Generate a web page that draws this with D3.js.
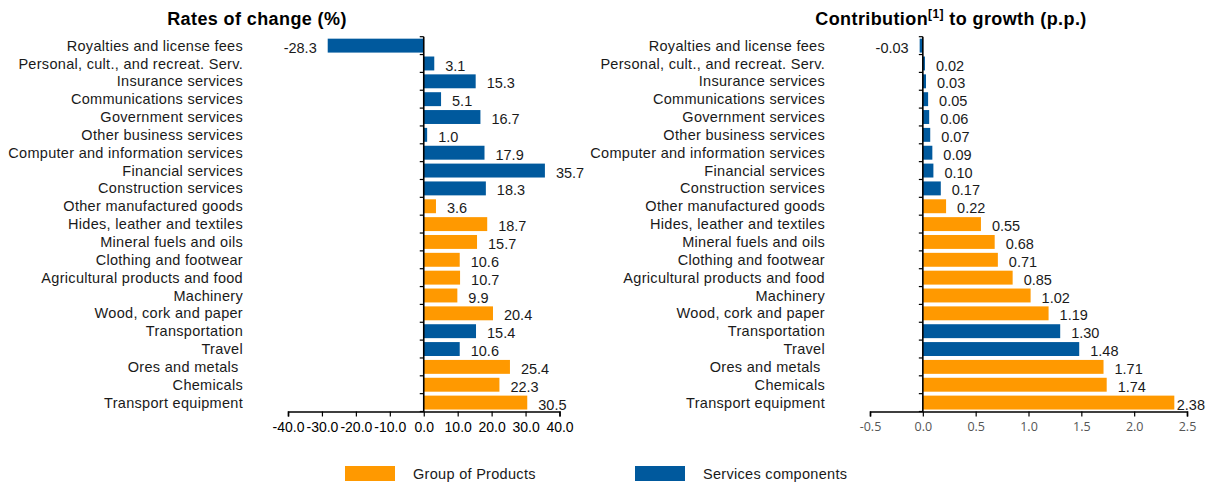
<!DOCTYPE html>
<html><head><meta charset="utf-8">
<script src="https://cdn.jsdelivr.net/npm/d3@7"></script>
<style>
body{margin:0;background:#fff}
svg{display:block}
text{font-family:"Liberation Sans",Arial,sans-serif}
</style>
</head><body>
<svg id="c" width="1206" height="483"></svg>
<script>
const categories = ["Royalties and license fees","Personal, cult., and recreat. Serv.","Insurance services","Communications services","Government services","Other business services","Computer and information services","Financial services","Construction services","Other manufactured goods","Hides, leather and textiles","Mineral fuels and oils","Clothing and footwear","Agricultural products and food","Machinery","Wood, cork and paper","Transportation","Travel","Ores and metals ","Chemicals","Transport equipment"];
const groups = ["S","S","S","S","S","S","S","S","S","P","P","P","P","P","P","P","S","S","P","P","P"];
const ratesOfChange = [-28.3,3.1,15.3,5.1,16.7,1.0,17.9,35.7,18.3,3.6,18.7,15.7,10.6,10.7,9.9,20.4,15.4,10.6,25.4,22.3,30.5];
const contributions = [-0.03,0.02,0.03,0.05,0.06,0.07,0.09,0.10,0.17,0.22,0.55,0.68,0.71,0.85,1.02,1.19,1.30,1.48,1.71,1.74,2.38];
const rateTicks = [-40,-30,-20,-10,0,10,20,30,40];
const contribTicks = [-0.5,0,0.5,1.0,1.5,2.0,2.5];
const legendKeys = ["P","S"];
const legendNames = ["Group of Products","Services components"];
const colors = {P:"#FF9900", S:"#00599D"};

const svg = d3.select("#c");
const W = 1206;

const y = d3.scaleBand().domain(categories).range([36.7, 411.5]).paddingInner(0.22).paddingOuter(0.11);

function panel(opt){
  const x = d3.scaleLinear().domain(opt.domain).range(opt.range);
  const g = svg.append("g");
  const x0 = x(0);
  g.selectAll("rect.bar").data(categories).join("rect")
    .attr("x",(c,i)=>Math.min(x(0),x(opt.values[i])))
    .attr("y",c=>y(c))
    .attr("width",(c,i)=>Math.abs(x(opt.values[i])-x(0)))
    .attr("height",y.bandwidth())
    .attr("fill",(c,i)=>colors[groups[i]]);
  g.selectAll("text.cat").data(categories).join("text")
    .attr("x",opt.catX)
    .attr("y",c=>y(c)+y.bandwidth()/2)
    .attr("dy","0.35em")
    .attr("text-anchor","end")
    .style("white-space","pre")
    .style("letter-spacing","0.3px")
    .attr("font-size",14.5)
    .attr("fill","#1a1a1a")
    .text(c=>c);
  const vl = g.selectAll("text.val").data(categories).join("text")
    .attr("x",(c,i)=>opt.values[i]>=0 ? x(opt.values[i])+opt.gap : x(opt.values[i])-opt.gap)
    .attr("y",c=>y(c)+y.bandwidth()/2+2)
    .attr("dy","0.35em")
    .attr("text-anchor",(c,i)=>opt.values[i]>=0?"start":"end")
    .attr("font-size",14.5)
    .attr("fill","#1a1a1a")
    .text((c,i)=>opt.fmt(opt.values[i]));
  vl.each(function(){
    const b=this.getBBox();
    if(b.x+b.width>W-1){ d3.select(this).attr("text-anchor","end").attr("x",W-1); }
  });
  const step=y.step(), off=(step-y.bandwidth())/2;
  const bounds = categories.map(c=>y(c)-off).concat([y(categories[categories.length-1])+y.bandwidth()+off]);
  g.append("line").attr("x1",x0).attr("x2",x0).attr("y1",y.range()[0]).attr("y2",y.range()[1])
    .attr("stroke","#000").attr("stroke-width",1.6);
  g.selectAll("line.tk").data(bounds).join("line")
    .attr("x1",x0-4).attr("x2",x0).attr("y1",d=>d).attr("y2",d=>d)
    .attr("stroke","#000").attr("stroke-width",1.2);
  const ax = g.append("g").attr("transform",`translate(0,${y.range()[1]})`)
    .call(d3.axisBottom(x).tickValues(opt.ticks).tickSizeOuter(0).tickSize(5).tickPadding(6).tickFormat(d=>d.toFixed(1)));
  ax.select(".domain").attr("stroke","#000").attr("stroke-width",1.6);
  ax.selectAll(".tick line").attr("stroke","#000").attr("stroke-width",1.2);
  ax.selectAll(".tick text").attr("font-size",opt.tickFont).attr("fill",opt.tickColor)
    .style("font-family",opt.tickFamily);
  const t = svg.append("text").attr("x",opt.titleX).attr("y",25).attr("text-anchor","middle")
    .attr("font-size",18).attr("font-weight","bold").style("letter-spacing","0.4px").attr("fill","#000");
  opt.title.forEach(p=>{
    const ts=t.append("tspan").text(p.t);
    if(p.sup){ ts.attr("font-size",12).attr("dy",-7); }
    else if(p.after){ ts.attr("dy",7); }
  });
}

panel({domain:[-40,40], range:[288,559.5], values:ratesOfChange, catX:243, gap:11,
  fmt:v=>v.toFixed(1), ticks:rateTicks, tickFont:14, tickColor:"#000", tickFamily:"Liberation Sans, Arial, sans-serif",
  titleX:257, title:[{t:"Rates of change (%)"}]});
panel({domain:[-0.5,2.5], range:[870,1187], values:contributions, catX:825, gap:11,
  fmt:v=>v.toFixed(2), ticks:contribTicks, tickFont:12.5, tickColor:"#555", tickFamily:"Open Sans, sans-serif",
  titleX:951, title:[{t:"Contribution"},{t:"[1]",sup:true},{t:" to growth (p.p.)",after:true}]});

const lx=[345,635], tx=[413,703];
legendKeys.forEach((k,i)=>{
  svg.append("rect").attr("x",lx[i]).attr("y",466).attr("width",50).attr("height",15).attr("fill",colors[k]);
  svg.append("text").attr("x",tx[i]).attr("y",474).attr("dy","0.35em").attr("font-size",14.5)
    .style("letter-spacing","0.3px").attr("fill","#1a1a1a").text(legendNames[i]);
});
</script>
</body></html>
